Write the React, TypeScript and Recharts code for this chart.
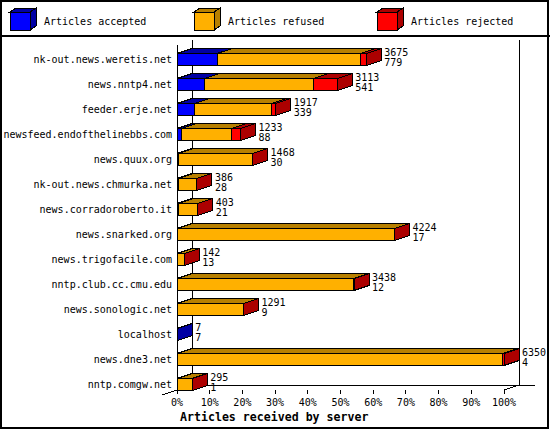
import React from 'react';
import { BarChart, Bar, XAxis, YAxis } from 'recharts';

const servers = [
  'nk-out.news.weretis.net',
  'news.nntp4.net',
  'feeder.erje.net',
  'newsfeed.endofthelinebbs.com',
  'news.quux.org',
  'nk-out.news.chmurka.net',
  'news.corradoroberto.it',
  'news.snarked.org',
  'news.trigofacile.com',
  'nntp.club.cc.cmu.edu',
  'news.sonologic.net',
  'localhost',
  'news.dne3.net',
  'nntp.comgw.net',
];
const offered = [3675, 3113, 1917, 1233, 1468, 386, 403, 4224, 142, 3438, 1291, 7, 6350, 295];
const accepted = [779, 541, 339, 88, 30, 28, 21, 17, 13, 12, 9, 7, 4, 1];
const refused = [2780, 2106, 1500, 970, 1433, 355, 379, 4202, 126, 3421, 1278, 0, 6321, 292];
const rejected = [116, 466, 78, 175, 5, 3, 3, 5, 3, 5, 4, 0, 25, 2];
const percentTicks = [0, 10, 20, 30, 40, 50, 60, 70, 80, 90, 100];

const FONT = '"DejaVu Sans Mono", monospace';
const DX = 15;
const DY = 5;
const ORDER = ['accepted', 'refused', 'rejected'];

const colors: Record<string, { front: string; dark: string; label: string }> = {
  accepted: { front: '#0000ff', dark: '#0000a4', label: 'Articles accepted' },
  refused: { front: '#ffb000', dark: '#b88000', label: 'Articles refused' },
  rejected: { front: '#ff0000', dark: '#ac0000', label: 'Articles rejected' },
};

const maxOffered = Math.max(...offered);
const data = servers.map((name, i) => ({
  name,
  accepted: (accepted[i] / maxOffered) * 100,
  refused: (refused[i] / maxOffered) * 100,
  rejected: (rejected[i] / maxOffered) * 100,
  offered: offered[i],
  acc: accepted[i],
}));

const makeShape = (key: string) => (props: any) => {
  const { x, y, width, height, payload } = props;
  if (!payload || !(payload[key] > 0)) return <g />;
  const c = colors[key];
  const last = [...ORDER].reverse().find((k) => payload[k] > 0);
  const w = Math.max(width, 0);
  const r = x + w;
  return (
    <g shapeRendering="crispEdges" stroke="#000" strokeWidth={1}>
      <rect x={x} y={y} width={w} height={height} fill={c.front} />
      <polygon
        points={`${x},${y} ${x + DX},${y - DY} ${r + DX},${y - DY} ${r},${y}`}
        fill={c.dark}
      />
      {last === key && (
        <g>
          <polygon
            points={`${r},${y} ${r + DX},${y - DY} ${r + DX},${y + height - DY} ${r},${y + height}`}
            fill={c.dark}
          />
          <text x={r + DX + 3} y={y + 2} fontFamily={FONT} fontSize={10} fill="#000" stroke="none">
            {payload.offered}
          </text>
          <text x={r + DX + 3} y={y + height} fontFamily={FONT} fontSize={10} fill="#000" stroke="none">
            {payload.acc}
          </text>
        </g>
      )}
    </g>
  );
};

const PercentTick = (props: any) => {
  const { x, y, payload } = props;
  return (
    <g>
      <line x1={x} x2={x} y1={y - 6.5} y2={y - 2.5} stroke="#000" shapeRendering="crispEdges" />
      <text x={x} y={y + 9.5} textAnchor="middle" fontFamily={FONT} fontSize={10} fill="#000">
        {payload.value}%
      </text>
    </g>
  );
};

const LegendCube = ({ x, k }: { x: number; k: string }) => {
  const c = colors[k];
  return (
    <g shapeRendering="crispEdges" stroke="#000">
      <rect x={x} y={12} width={20} height={18} fill={c.front} />
      <polygon points={`${x},12 ${x + 6},8 ${x + 26},8 ${x + 20},12`} fill={c.dark} />
      <polygon points={`${x + 20},12 ${x + 26},8 ${x + 26},26 ${x + 20},30`} fill={c.dark} />
      <text x={x + 34} y={25} fontFamily={FONT} fontSize={10} fill="#000" stroke="none">
        {c.label}
      </text>
    </g>
  );
};

const Backdrop = () => (
  <svg width={550} height={430} style={{ position: 'absolute', left: 0, top: 0 }}>
    <rect x={0} y={0} width={550} height={430} fill="#fff" />
    <g stroke="#000" shapeRendering="crispEdges" fill="none">
      <rect x={1} y={1} width={547} height={427} strokeWidth={2} />
      <line x1={0} x2={550} y1={36} y2={36} strokeWidth={2} />
      <line x1={177} x2={177} y1={45} y2={390} />
      <line x1={192} x2={192} y1={40} y2={385} />
      <line x1={519} x2={519} y1={40} y2={385} />
      <line x1={192} x2={535} y1={385} y2={385} />
      <line x1={162} x2={177} y1={395} y2={390} />
      <line x1={504} x2={519} y1={390} y2={385} />
    </g>
    <LegendCube x={10} k="accepted" />
    <LegendCube x={194} k="refused" />
    <LegendCube x={377} k="rejected" />
    <text x={180} y={421} fontFamily={FONT} fontSize={11.6} fontWeight="bold" fill="#000">
      Articles received by server
    </text>
  </svg>
);

const App: React.FC = () => {
  return (
    <div style={{ position: 'absolute', left: 0, top: 0, width: 550, height: 430 }}>
      <Backdrop />
      <div style={{ position: 'absolute', left: 0, top: 0 }}>
        <BarChart
          width={550}
          height={430}
          data={data}
          layout="vertical"
          margin={{ top: 46.5, right: 46, bottom: 3.5, left: 0 }}
          barSize={12}
        >
          <XAxis
            type="number"
            domain={[0, 100]}
            ticks={percentTicks}
            axisLine={false}
            tickLine={false}
            tickSize={0}
            tickMargin={0}
            height={30}
            tick={<PercentTick />}
          />
          <YAxis
            type="category"
            dataKey="name"
            width={177}
            axisLine={false}
            tickLine={false}
            tickSize={0}
            tickMargin={5}
            interval={0}
            tick={{ fontFamily: FONT, fontSize: 10, fill: '#000' }}
          />
          {ORDER.map((k) => (
            <Bar
              key={k}
              dataKey={k}
              stackId="a"
              fill={colors[k].front}
              shape={makeShape(k)}
              isAnimationActive={false}
            />
          ))}
        </BarChart>
      </div>
    </div>
  );
};

export default App;
